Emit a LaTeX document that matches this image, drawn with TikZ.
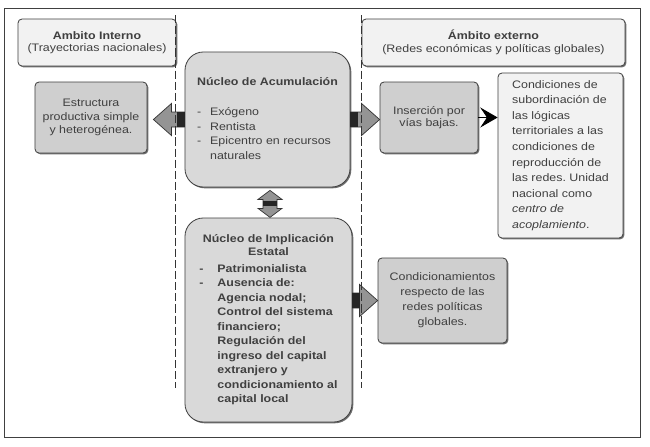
\documentclass[tikz,border=0pt]{standalone}
\usepackage{fontspec}
\setmainfont{Liberation Sans}[FakeStretch=1.14]
\usepackage{tikz}
\usetikzlibrary{calc}
\usetikzlibrary{shadows}
\usetikzlibrary{arrows.meta}

\newcommand{\fatarrow}[3]{%
  \filldraw[headfill] ($(#1)+(0,-7.5)$) -- ($(#2)+(-18*#3,-7.5)$) -- ($(#2)+(-18*#3,-16)$)
    -- (#2) -- ($(#2)+(-18*#3,16)$) -- ($(#2)+(-18*#3,7.5)$) -- ($(#1)+(0,7.5)$) -- cycle;
  \fill[stripefill] ($(#1)+(0,-7.5)$) rectangle ($(#1)+(8*#3,7.5)$);}

\begin{document}
\begin{tikzpicture}[x=0.03cm, y=-0.03cm,
    box/.style={draw=black!75, line width=0.7pt, rounded corners=0.12cm, text=black!75,
                inner sep=0pt, align=center, font=\fontsize{9.3}{11.4}\selectfont,
                drop shadow={shadow xshift=1.1pt, shadow yshift=-1.1pt, fill=black!70, opacity=0.8}},
    ambox/.style={box, fill=black!5},
    cellbox/.style={box, fill=black!19},
    corebox/.style={box, fill=black!15, rounded corners=0.55cm},
    headfill/.style={fill=black!42, draw=black!80, line width=0.6pt, line join=miter},
    stripefill/.style={fill=black!85},
    sepline/.style={draw=black!80, line width=0.5pt, dash pattern=on 7pt off 2.5pt},
    frame/.style={draw=black!75, line width=0.8pt, fill=white,
                  drop shadow={shadow xshift=0.8pt, shadow yshift=-0.8pt, fill=black!60, opacity=0.7}}]
                    \useasboundingbox (0,0) rectangle (650,446);
                    \draw[frame] (4,8) rectangle (640,437);

                    \node[ambox, minimum width=4.74cm, minimum height=1.41cm, font=\fontsize{9.3}{10.4}\selectfont] (intbox) at (97,42.5)
                        {\textbf{Ambito Interno}\\(Trayectorias nacionales)};
                    \node[ambox, minimum width=7.89cm, minimum height=1.41cm] (extbox) at (493.5,42.5)
                        {\textbf{Ámbito externo}\\(Redes económicas y políticas globales)};

                    \node[cellbox, minimum width=3.36cm, minimum height=2.13cm] (estr) at (91,117.5)
                        {Estructura\\productiva simple\\y heterogénea.};
                    \node[corebox, minimum width=4.95cm, minimum height=4.05cm, font=\fontsize{9.3}{12.8}\selectfont] (acum) at (267.5,119.5)
                        {\begin{tabular}{@{}p{0.39cm}@{}l@{}}
                         \multicolumn{2}{@{}l@{}}{\textbf{Núcleo de Acumulación}}\\[12.8pt]
                         - & Exógeno\\
                         - & Rentista\\
                         - & Epicentro en recursos\\
                           & naturales
                         \end{tabular}};
                    \node[cellbox, minimum width=2.94cm, minimum height=2.13cm, font=\fontsize{9.3}{10.4}\selectfont] (ins) at (429,117.5)
                        {Inserción por\\vías bajas.};
                    \node[ambox, align=left, minimum width=3.75cm, minimum height=4.95cm, font=\fontsize{9.3}{13.3}\selectfont] (cond) at (560.5,155.5)
                        {Condiciones de\\subordinación de\\las lógicas\\territoriales a las\\condiciones de\\reproducción de\\las redes.\ Unidad\\nacional como\\\textit{centro de}\\\textit{acoplamiento}.};

                    \node[corebox, minimum width=5.01cm, minimum height=6.12cm, font=\fontsize{9.3}{12.4}\selectfont\bfseries] (impl) at (268.5,320)
                        {\begin{tabular}{@{}p{0.54cm}@{}l@{}}
                         \multicolumn{2}{@{}c@{}}{Núcleo de Implicación}\\[-1.6pt]
                         \multicolumn{2}{@{}c@{}}{Estatal}\\[1.8pt]
                         - & Patrimonialista\\
                         - & Ausencia de:\\
                           & Agencia nodal;\\
                           & Control del sistema\\
                           & financiero;\\
                           & Regulación del\\
                           & ingreso del capital\\
                           & extranjero y\\
                           & condicionamiento al\\
                           & capital local
                         \end{tabular}};
                    \node[cellbox, minimum width=3.87cm, minimum height=2.55cm, font=\fontsize{9.3}{12.8}\selectfont] (condic) at (442.5,300.5)
                        {Condicionamientos\\respecto de las\\redes políticas\\globales.};

                    \coordinate (ltip) at ($(acum.west -| estr.east)+(6,0)$);
                    \fatarrow{acum.west}{ltip}{-1}
                    \fatarrow{acum.east}{acum.east -| ins.west}{1}
                    \fatarrow{impl.east |- condic.west}{condic.west}{1}

                    \filldraw[headfill] ($(acum.south)+(2.5,3)$) -- ++(12,9) -- ++(-5,0) -- ++(0,9) -- ++(5,0)
                        -- ++(-12,9) -- ++(-12,-9) -- ++(5,0) -- ++(0,-9) -- ++(-5,0) -- cycle;
                    \fill[stripefill] ($(acum.south)+(-4.5,14)$) rectangle ++(14,5);

                    \draw[black, line width=0.6pt, -{Stealth[length=0.52cm, width=0.6cm, inset=0.2cm]}] (ins.east) -- (ins.east -| cond.west);

                    \draw[sepline] (175.5,15) -- (175.5,388);
                    \draw[sepline] (361.5,15) -- (361.5,388);
                \end{tikzpicture}
\end{document}
